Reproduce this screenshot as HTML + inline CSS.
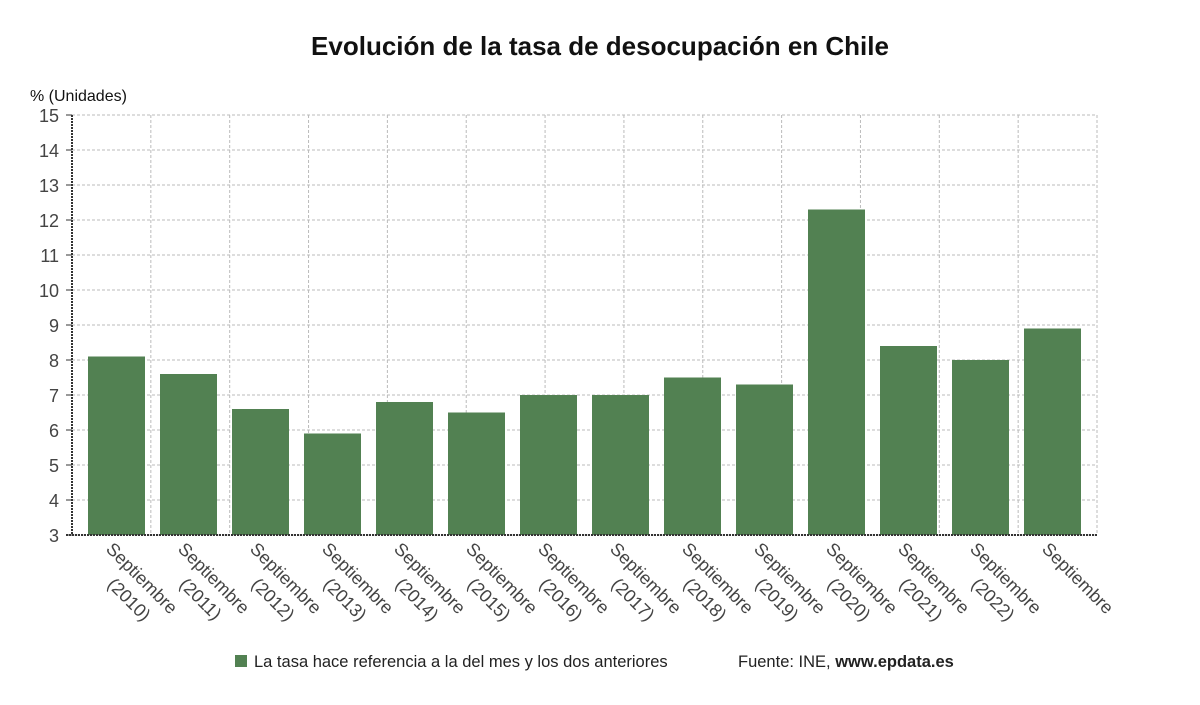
<!DOCTYPE html>
<html><head><meta charset="utf-8"><style>
body{margin:0;background:#fff;font-family:"Liberation Sans",sans-serif;}
svg{display:block}
</style></head><body>
<svg id="chart" width="1200" height="705" viewBox="0 0 1200 705" xmlns="http://www.w3.org/2000/svg">
<text x="600" y="55" text-anchor="middle" font-size="26" font-weight="bold" fill="#111">Evolución de la tasa de desocupación en Chile</text>
<text x="30" y="101" font-size="16" fill="#111">% (Unidades)</text>
<g id="grid"></g><g id="bars"></g><g id="yticks"></g><g id="xlabels"></g>
<line x1="72" y1="115" x2="72" y2="535" stroke="#333" stroke-width="2" stroke-dasharray="2,1"/>
<line x1="66" y1="535" x2="1097" y2="535" stroke="#333" stroke-width="2" stroke-dasharray="2,1"/>
<g>
<rect x="235" y="655" width="12" height="12" fill="#528152"/>
<text x="254" y="667" font-size="16.5" fill="#222">La tasa hace referencia a la del mes y los dos anteriores</text>
<text x="738" y="667" font-size="16.5" fill="#222">Fuente: INE, <tspan font-weight="bold">www.epdata.es</tspan></text>
</g>
</svg>
<script>
const categories=["Septiembre (2010)","Septiembre (2011)","Septiembre (2012)","Septiembre (2013)","Septiembre (2014)","Septiembre (2015)","Septiembre (2016)","Septiembre (2017)","Septiembre (2018)","Septiembre (2019)","Septiembre (2020)","Septiembre (2021)","Septiembre (2022)","Septiembre"];
const values=[8.1,7.6,6.6,5.9,6.8,6.5,7.0,7.0,7.5,7.3,12.3,8.4,8.0,8.9];
const yTicks=[3,4,5,6,7,8,9,10,11,12,13,14,15];
const NS="http://www.w3.org/2000/svg";
const L=72,R=1097,T=115,B=535,yMin=3,yMax=15;
const y=v=>B-(v-yMin)/(yMax-yMin)*(B-T);
const band=(R-L-17)/categories.length, x0=80;
const xBand=i=>x0+i*band;
function mk(tag,attrs,parent){const e=document.createElementNS(NS,tag);for(const k in attrs)e.setAttribute(k,attrs[k]);parent.appendChild(e);return e;}
const grid=document.getElementById('grid'),bars=document.getElementById('bars'),yt=document.getElementById('yticks'),xl=document.getElementById('xlabels');
yTicks.forEach(t=>{
  const g=mk('line',{x1:L,x2:R,y1:y(t),y2:y(t),stroke:'#bbb','stroke-dasharray':'3,2'},grid);
  
  
  const tk=mk('line',{x1:66,x2:72,y1:y(t),y2:y(t),stroke:'#333'},yt);
  
  
  const tx=mk('text',{x:59,y:y(t)+7,'text-anchor':'end','font-size':'18',fill:'#444'},yt);
  tx.textContent=t;
  
  
});
for(let i=1;i<=13;i++){
  const gx=L+i*(R-L)/13;
  const g=mk('line',{x1:gx,x2:gx,y1:T,y2:B,stroke:'#bbb','stroke-dasharray':'3,2'},grid);
  
  
}
categories.forEach((c,i)=>{
  const bx=xBand(i)+8,v=values[i];
  const r=mk('rect',{x:bx,y:y(v),width:57,height:B-y(v),fill:'#528152'},bars);
  
  
  const cx=bx+17;
  const parts=c.split(' ');
  const t=mk('text',{transform:`translate(${cx},550) rotate(45)`,'font-size':'18',fill:'#444'},xl);
  
  
  const s1=mk('tspan',{x:0,y:0},t);s1.textContent=parts[0];
  if(parts[1]){const s2=mk('tspan',{x:26,y:24},t);s2.textContent=parts[1];}
});
</script>
</body></html>
